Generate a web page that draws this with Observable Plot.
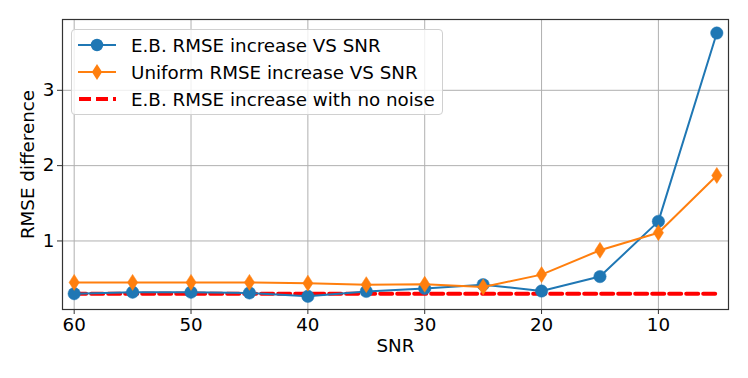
<!DOCTYPE html>
<html>
<head>
<meta charset="utf-8">
<script src="https://cdn.jsdelivr.net/npm/d3@7"></script>
<script src="https://cdn.jsdelivr.net/npm/@observablehq/plot@0.6"></script>
<style>
  html, body { margin: 0; padding: 0; background: #fff; }
  #wrap { position: relative; width: 748px; height: 378px; font-family: "DejaVu Sans", sans-serif; }
  #legend { position: absolute; left: 71px; top: 29px; width: 372px; height: 86px;
            background: rgba(255,255,255,0.8); border: 1px solid #d0d0d0; border-radius: 4px; box-sizing: border-box; }
  .row { position: absolute; left: 0; height: 26px; display: flex; align-items: center; font-size: 18.3px; color: #000; white-space: nowrap; }
  .row svg { margin-left: 5px; margin-right: 14px; }
</style>
</head>
<body>
<div id="wrap"><div id="chart"></div><div id="legend"></div></div>
<script>
const snr = [60, 55, 50, 45, 40, 35, 30, 25, 20, 15, 10, 5];
const ebRmse = [0.30, 0.32, 0.32, 0.31, 0.265, 0.33, 0.37, 0.42, 0.335, 0.527, 1.26, 3.76];
const uniformRmse = [0.45, 0.45, 0.45, 0.45, 0.44, 0.42, 0.425, 0.39, 0.553, 0.876, 1.11, 1.87];
const noNoise = [0.30, 0.30, 0.30, 0.30, 0.30, 0.30, 0.30, 0.30, 0.30, 0.30, 0.30, 0.30];
const xTicks = [60, 50, 40, 30, 20, 10];
const yTicks = [1, 2, 3];
const seriesNames = ["E.B. RMSE increase VS SNR", "Uniform RMSE increase VS SNR", "E.B. RMSE increase with no noise"];
const colors = ["#1f77b4", "#ff7f0e", "#ff0000"];

const eb = snr.map((s, i) => ({snr: s, v: ebRmse[i]}));
const uni = snr.map((s, i) => ({snr: s, v: uniformRmse[i]}));
const nn = snr.map((s, i) => ({snr: s, v: noNoise[i]}));

const thinDiamond = {
  draw(ctx, size) {
    const r = Math.sqrt(size / Math.PI);
    ctx.moveTo(0, -r);
    ctx.lineTo(0.64 * r, 0);
    ctx.lineTo(0, r);
    ctx.lineTo(-0.64 * r, 0);
    ctx.closePath();
  }
};

const FS = 18.3;
const chart = Plot.plot({
  width: 748,
  height: 378,
  marginLeft: 62,
  marginRight: 20,
  marginTop: 19,
  marginBottom: 69,
  style: {fontFamily: "DejaVu Sans, sans-serif", fontSize: FS + "px", color: "#000", background: "#fff"},
  x: {type: "linear", domain: [61, 4]},
  y: {domain: [0.09, 3.94]},
  marks: [
    Plot.gridX(xTicks, {stroke: "#b0b0b0", strokeOpacity: 1, strokeWidth: 1}),
    Plot.gridY(yTicks, {stroke: "#b0b0b0", strokeOpacity: 1, strokeWidth: 1}),
    Plot.axisX({ticks: xTicks, tickSize: 5, tickPadding: 3, fontSize: FS, tickFormat: "d", label: null, stroke: "#333"}),
    Plot.axisY({ticks: yTicks, tickSize: 5, tickPadding: 3, fontSize: FS, tickFormat: "d", label: null, stroke: "#333"}),
    Plot.text(["SNR"], {frameAnchor: "bottom", dy: 37, fontSize: FS, fill: "#000", textAnchor: "middle", lineAnchor: "middle"}),
    Plot.text(["RMSE difference"], {frameAnchor: "left", dx: -34, rotate: -90, fontSize: FS, fill: "#000", textAnchor: "middle", lineAnchor: "middle"}),
    Plot.line(nn, {x: "snr", y: "v", stroke: colors[2], strokeWidth: 4, strokeDasharray: "12,5"}),
    Plot.line(eb, {x: "snr", y: "v", stroke: colors[0], strokeWidth: 2}),
    Plot.dot(eb, {x: "snr", y: "v", r: 6.2, fill: colors[0], stroke: colors[0], strokeWidth: 0.5}),
    Plot.line(uni, {x: "snr", y: "v", stroke: colors[1], strokeWidth: 2}),
    Plot.dot(uni, {x: "snr", y: "v", r: 8, symbol: thinDiamond, fill: colors[1], stroke: colors[1], strokeWidth: 0.5}),
    Plot.frame({stroke: "#333", strokeWidth: 1.2})
  ]
});
document.getElementById("chart").appendChild(chart);

// legend overlay
const legend = document.getElementById("legend");
const samples = [
  `<svg width="40" height="20"><line x1="1" y1="10" x2="39" y2="10" stroke="${colors[0]}" stroke-width="2"/><circle cx="20" cy="10" r="6.2" fill="${colors[0]}"/></svg>`,
  `<svg width="40" height="20"><line x1="1" y1="10" x2="39" y2="10" stroke="${colors[1]}" stroke-width="2"/><path d="M20,2 L25.1,10 L20,18 L14.9,10 Z" fill="${colors[1]}"/></svg>`,
  `<svg width="40" height="20"><line x1="2" y1="10" x2="39" y2="10" stroke="${colors[2]}" stroke-width="4" stroke-dasharray="12,5"/></svg>`
];
seriesNames.forEach((name, i) => {
  const row = document.createElement("div");
  row.className = "row";
  row.style.top = (2 + i * 27) + "px";
  row.innerHTML = samples[i] + `<span>${name}</span>`;
  legend.appendChild(row);
});
</script>
</body>
</html>
